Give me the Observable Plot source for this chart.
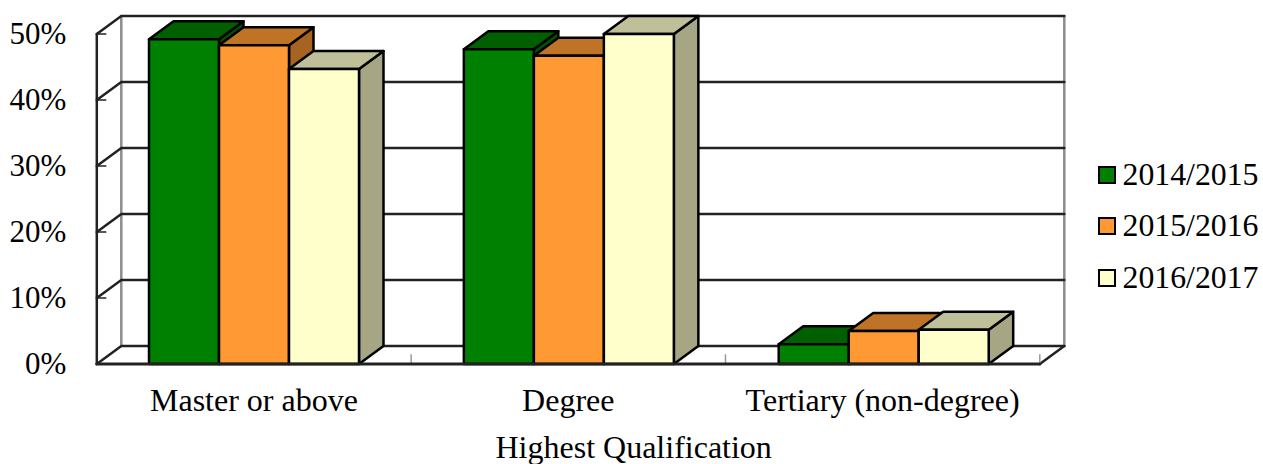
<!DOCTYPE html>
<html><head><meta charset="utf-8">
<script src="https://cdn.jsdelivr.net/npm/d3@7"></script>
<script src="https://cdn.jsdelivr.net/npm/@observablehq/plot@0.6"></script>
<style>
html,body{margin:0;padding:0;background:#fff}
#wrap{position:relative;width:1263px;height:464px;overflow:hidden;font-family:"Liberation Serif",serif;color:#000}
#legend{position:absolute;left:1098px;top:149px}
.row{display:flex;align-items:center;height:51.5px;font-size:31.8px}
.sw{width:14px;height:14px;border:2.5px solid #000;margin-right:6.5px;flex:none}
</style></head><body>
<div id="wrap"><div id="chart"></div><div id="legend"></div></div>
<script>
const categories = ["Master or above", "Degree", "Tertiary (non-degree)"];
const seriesNames = ["2014/2015", "2015/2016", "2016/2017"];
const values2014 = [49.2, 47.7, 3.0];
const values2015 = [48.3, 46.7, 5.0];
const values2016 = [44.7, 50.0, 5.2];
const frontColors = ["#008000", "#ff9933", "#ffffcc"];
const topColors = ["#006000", "#bf7326", "#bfbf99"];
const sideColors = ["#005300", "#a66321", "#a6a685"];
const yTicks = [0, 10, 20, 30, 40, 50];
const xTicks = [1, 2, 3];

const allValues = [values2014, values2015, values2016];
const depthX = 24.5 / 314.33, depthY = 18 / 6.6;
const barW = 70 / 314.33, pad = 52.2 / 314.33, groupStep = 314.85 / 314.33;

// Faces in painter's order: series left to right
const faces = [];
function face(id, fill, pts) {
  [...pts, pts[0]].forEach(([x, y]) => faces.push({id, fill, x, y}));
}
categories.forEach((c, i) => {
  allValues.forEach((vals, s) => {
    const x0 = i * groupStep + pad + s * barW, x1 = x0 + barW, v = vals[i];
    const id = i + "-" + s;
    face(id + "-side", sideColors[s], [[x1, 0], [x1 + depthX, depthY], [x1 + depthX, v + depthY], [x1, v]]);
    face(id + "-top", topColors[s], [[x0, v], [x0 + depthX, v + depthY], [x1 + depthX, v + depthY], [x1, v]]);
    face(id + "-front", frontColors[s], [[x0, 0], [x0, v], [x1, v], [x1, 0]]);
  });
});

const greyEdges = [];
[depthX, 3 + depthX].forEach((x, k) => {
  greyEdges.push({id: k, x, y: depthY}, {id: k, x, y: 50 + depthY});
});
const wallLines = [];
yTicks.forEach(v => {
  wallLines.push({id: v, x: 0, y: v}, {id: v, x: depthX, y: v + depthY}, {id: v, x: 3 + depthX, y: v + depthY});
});
const floorEdge = [{x: 3, y: 0}, {x: 3 + depthX, y: depthY}];
const frontAxis = [{x: 0, y: 0}, {x: 0, y: 50}];
const baseline = [{x: 0, y: 0}, {x: 3, y: 0}];

const chart = Plot.plot({
  width: 1263, height: 464,
  marginLeft: 96.3, marginRight: 223.7, marginTop: 33.5, marginBottom: 100.5,
  x: {domain: [0, 3], axis: null},
  y: {domain: [0, 50], axis: null},
  style: {background: "#fff", fontFamily: "'Liberation Serif', serif"},
  marks: [
    Plot.line(greyEdges, {x: "x", y: "y", z: "id", stroke: "#8c8c8c", strokeWidth: 2.5}),
    Plot.line(wallLines, {x: "x", y: "y", z: "id", stroke: "#222", strokeWidth: 2.5}),
    Plot.line(floorEdge, {x: "x", y: "y", stroke: "#222", strokeWidth: 2.5}),
    Plot.ruleX(xTicks, {y1: 0, y2: 1.4, stroke: "#999", strokeWidth: 1.5}),
    Plot.ruleY(yTicks, {x1: 0, x2: 0.032, stroke: "#222", strokeWidth: 1.5}),
    Plot.line(frontAxis, {x: "x", y: "y", stroke: "#222", strokeWidth: 2.5}),
    Plot.line(faces, {x: "x", y: "y", z: "id", fill: "fill", stroke: "#000", strokeWidth: 2.5}),
    Plot.line(baseline, {x: "x", y: "y", stroke: "#222", strokeWidth: 3}),
    Plot.axisY({ticks: yTicks, tickFormat: d => d + "%", tickSize: 0, tickPadding: 30.5, fontSize: 31, label: null, fill: "#000"}),
    Plot.text(categories, {x: (d, i) => i + 0.5, y: () => 0, dy: 37, text: d => d, fontSize: 32, fill: "#000"}),
    Plot.text(["Highest Qualification"], {x: () => 1.708, y: () => 0, dy: 83.5, text: d => d, fontSize: 32, fill: "#000"})
  ]
});
document.getElementById("chart").appendChild(chart);

const legend = document.getElementById("legend");
seriesNames.forEach((n, i) => {
  const r = document.createElement("div"); r.className = "row";
  const s = document.createElement("span"); s.className = "sw"; s.style.background = frontColors[i];
  const t = document.createElement("span"); t.textContent = n;
  r.append(s, t); legend.append(r);
});
</script></body></html>
